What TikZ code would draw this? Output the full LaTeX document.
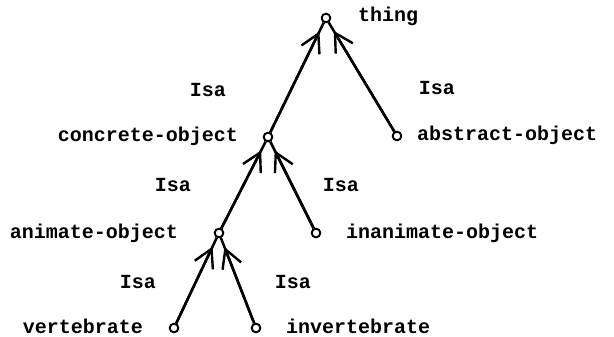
\documentclass[tikz,border=0pt]{standalone}
\usepackage{fontspec}
\setmonofont{Liberation Mono}
\usetikzlibrary{arrows.meta,calc}
\begin{document}
\begin{tikzpicture}[x=1pt,y=-1pt,
  every node/.style={inner sep=0pt, font=\ttfamily\bfseries\fontsize{20}{21}\selectfont},
  vtx/.style={circle, draw, fill=white, line width=1.8pt, minimum size=8.5pt, inner sep=0pt},
  link/.style={line width=2.5pt},
  isahead/.style={line width=2.5pt, -{Straight Barb[length=18pt,width=20pt,line width=2.4pt]}},
  lbl/.style={anchor=base west},
  rlbl/.style={anchor=base east},
  isa/.style={anchor=base}]
\useasboundingbox (0,0) rectangle (614,337);
% vertices
\node[vtx] (T) at (326,18) {};
\node[vtx] (C) at (268,137) {};
\node[vtx] (A) at (397,136) {};
\node[vtx] (N) at (219,233) {};
\node[vtx] (I) at (316,233) {};
\node[vtx] (V) at (174,328) {};
\node[vtx] (W) at (256,328) {};
% labels
\node[lbl] (tT) at (358,22) {thing};
\node[rlbl] (tC) at (238,142) {concrete-object};
\node[lbl] (tA) at (417,141) {abstract-object};
\node[rlbl] (tN) at (178,238) {animate-object};
\node[lbl] (tI) at (346,238) {inanimate-object};
\node[rlbl] (tV) at (143,333) {vertebrate};
\node[lbl] (tW) at (286,333) {invertebrate};
% Isa labels
\node[isa] (i1) at (208,96) {Isa};
\node[isa] (i2) at (437,95) {Isa};
\node[isa] (i3) at (173,191) {Isa};
\node[isa] (i4) at (341,191) {Isa};
\node[isa] (i5) at (138,288) {Isa};
\node[isa] (i6) at (293,288) {Isa};
% edges
\foreach \c/\p in {C/T, A/T, N/C, I/C, V/N, W/N} {
  \draw[link] (\c) -- (\p);
  \draw[isahead] (\c) -- ($(\p)!15pt!(\c)$);
}
% redraw vertices on top
\foreach \v in {T,C,A,N,I,V,W} {
  \node[vtx] at (\v) {};
}
\end{tikzpicture}
\end{document}
